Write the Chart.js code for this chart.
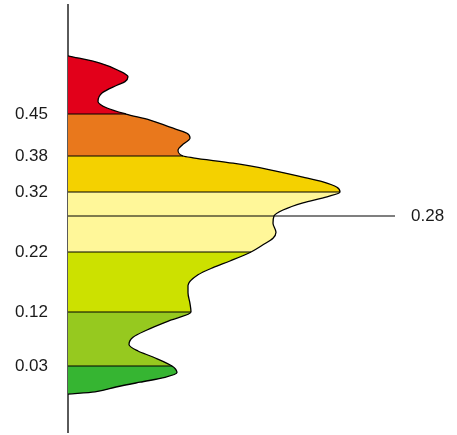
<!DOCTYPE html>
<html>
<head>
<meta charset="utf-8">
<script src="https://cdn.jsdelivr.net/npm/chart.js@4.4.0/dist/chart.umd.min.js"></script>
<style>
  body { margin: 0; background: #fff; }
  canvas { display: block; }
</style>
</head>
<body>
<canvas id="chart" width="457" height="435"></canvas>
<script>
// Tick labels on the left axis, and the marked value on the right
const tickValues = [0.45, 0.38, 0.32, 0.22, 0.12, 0.03];
const markValue = 0.28;
const markLineEnd = 327;

// Outline of the shape, top to bottom (value, width)
const outlineValues = [
  0.547, 0.535, 0.523, 0.512, 0.504, 0.498, 0.485, 0.471, 0.460, 0.45,
  0.44, 0.428, 0.418, 0.41, 0.398, 0.39, 0.38,
  0.377, 0.368, 0.357, 0.345, 0.337, 0.328, 0.32,
  0.312, 0.302, 0.29, 0.28,
  0.268, 0.253, 0.243, 0.232, 0.22,
  0.205, 0.194, 0.182, 0.164, 0.152, 0.134, 0.12,
  0.106, 0.09, 0.078, 0.066, 0.055, 0.045, 0.03,
  0.019, 0.011, 0.003, -0.005, -0.013, -0.017
];
const outlineDensity = [
  0, 32, 50, 60, 57, 49, 34, 30, 39, 58,
  82, 102, 119, 122, 114, 110, 115,
  125, 165, 202, 235, 255, 269, 272,
  259, 235, 215, 206,
  205, 208, 205, 195, 183,
  162, 145, 130, 120, 120, 122, 123,
  102, 79, 65, 61, 70, 85, 104,
  109, 97, 72, 48, 27, 0
];

// Band colours, top to bottom, split at the tick values
const bandColors = ['#e2001a', '#e9781c', '#f4d100', '#fff799', '#cce100', '#96c91f', '#36b532'];

function densityAt(v) {
  return outlineDensity[outlineValues.indexOf(v)];
}

// Hard-stop gradient so one smooth outline gets all the bands
function bandFill(context) {
  const chart = context.chart;
  const area = chart.chartArea;
  if (!area) return null;
  const y = chart.scales.y;
  const h = area.bottom - area.top;
  const g = chart.ctx.createLinearGradient(0, area.top, 0, area.bottom);
  g.addColorStop(0, bandColors[0]);
  tickValues.forEach((v, i) => {
    const o = Math.min(1, Math.max(0, (y.getPixelForValue(v) - area.top) / h));
    g.addColorStop(o, bandColors[i]);
    g.addColorStop(o, bandColors[i + 1]);
  });
  g.addColorStop(1, bandColors[bandColors.length - 1]);
  return g;
}

// keep the axes from adding label padding above/below the plot
function fixWidth(w) {
  return s => {
    s.width = w;
    s.paddingTop = 0;
    s.paddingBottom = 0;
  };
}

const datasets = [];

datasets.push({
  data: outlineValues.map((v, i) => ({ x: outlineDensity[i], y: v })),
  borderColor: '#000',
  borderWidth: 1.3,
  backgroundColor: bandFill,
  fill: 'origin',
  cubicInterpolationMode: 'monotone',
  order: 1
});

// separator lines at each tick
tickValues.forEach(v => {
  datasets.push({
    data: [{ x: 0, y: v }, { x: densityAt(v), y: v }],
    borderColor: '#000',
    borderWidth: 1.2,
    fill: false,
    tension: 0,
    order: 0
  });
});

// the marked value line runs out to the right label
datasets.push({
  data: [{ x: 0, y: markValue }, { x: markLineEnd, y: markValue }],
  borderColor: '#000',
  borderWidth: 1.2,
  fill: false,
  tension: 0,
  order: 0
});

const tickFont = { family: 'Liberation Sans', size: 17 };

new Chart(document.getElementById('chart'), {
  type: 'line',
  data: { datasets },
  options: {
    indexAxis: 'y',
    responsive: false,
    animation: false,
    layout: { padding: { top: 5, bottom: 3 } },
    plugins: {
      legend: { display: false },
      tooltip: { enabled: false }
    },
    elements: { point: { radius: 0 } },
    scales: {
      x: { type: 'linear', min: 0, max: markLineEnd, display: false },
      y: {
        type: 'linear',
        position: 'left',
        min: -0.08,
        max: 0.6317,
        afterFit: fixWidth(68),
        afterBuildTicks: s => { s.ticks = tickValues.map(v => ({ value: v })); },
        ticks: {
          padding: 20,
          color: '#1a1a1a',
          font: tickFont,
          callback: v => v.toFixed(2)
        },
        grid: { drawOnChartArea: false, drawTicks: false },
        border: { color: '#5a5a5a', width: 2 }
      },
      y2: {
        type: 'linear',
        position: 'right',
        min: -0.08,
        max: 0.6317,
        afterFit: fixWidth(62),
        afterBuildTicks: s => { s.ticks = [{ value: markValue }]; },
        ticks: {
          padding: 16,
          color: '#1a1a1a',
          font: tickFont,
          callback: v => v.toFixed(2)
        },
        grid: { display: false, drawTicks: false },
        border: { display: false }
      }
    }
  }
});
</script>
</body>
</html>
